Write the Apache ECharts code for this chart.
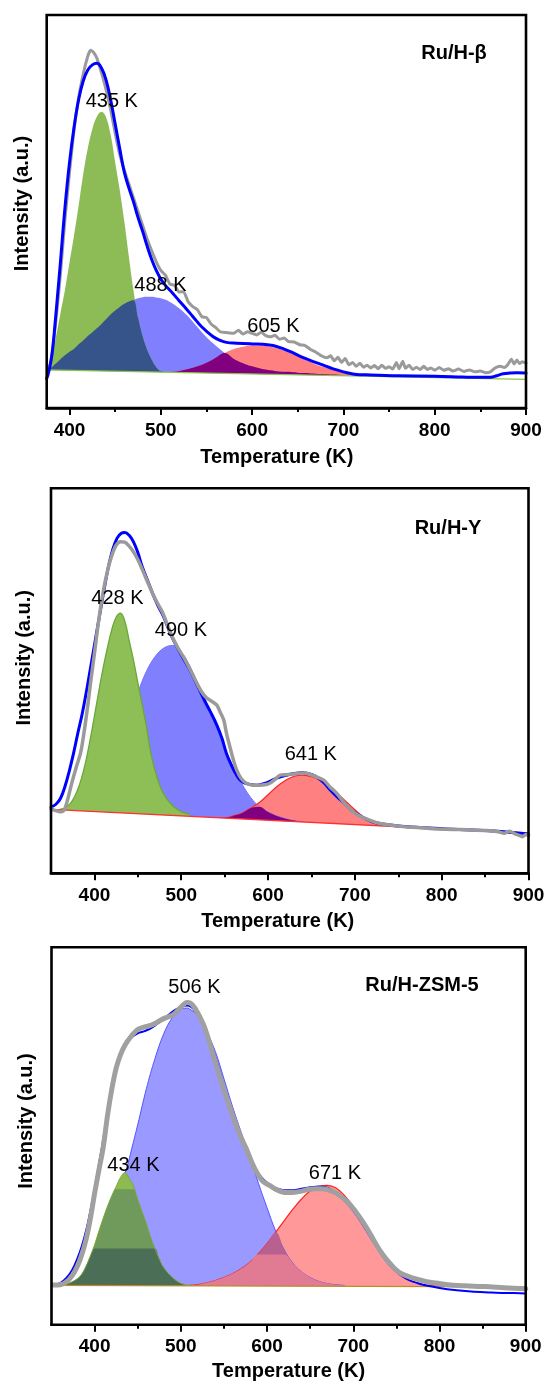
<!DOCTYPE html>
<html>
<head>
<meta charset="utf-8">
<script src="https://cdn.jsdelivr.net/npm/echarts@6/dist/echarts.min.js"></script>
<style>
html,body{margin:0;padding:0;background:#fff;}
#chart{width:544px;height:1382px;}
</style>
</head>
<body>
<div id="chart"></div>
<script>
// ---------- shared axis ticks ----------
const tickLabels = [400, 500, 600, 700, 800, 900];
const minorTicks = [450, 550, 650, 750, 850];

// ---------- Panel 1 : Ru/H-beta ----------
const p1Title = 'Ru/H-β';
const p1PeakLabels = ['435 K', '488 K', '605 K'];
const p1Base = [[375, 9.7], [900, 7.3]];
const p1Green = [[375,9.7],[380,13.0],[385,18.0],[390,24.0],[395,30.0],[400,37.0],[405,44.0],[410,51.5],[415,59.5],[420,66.0],[425,71.0],[430,74.2],[435,75.4],[440,74.0],[445,69.5],[450,62.5],[455,55.5],[460,47.5],[465,38.5],[470,30.0],[475,23.0],[480,18.3],[485,14.8],[490,12.3],[495,10.4],[500,9.4],[510,9.1]];
const p1Blue = [[375,9.7],[380,10.3],[385,11.3],[390,12.4],[395,13.4],[400,14.3],[405,15.1],[410,16.2],[415,17.2],[420,18.3],[425,19.3],[430,20.3],[435,21.4],[440,22.6],[445,23.8],[450,24.8],[455,25.7],[460,26.5],[465,27.1],[470,27.5],[475,27.9],[480,28.2],[485,28.3],[490,28.3],[495,28.1],[500,27.9],[510,27.0],[520,25.4],[530,23.3],[540,20.6],[550,18.0],[560,15.9],[570,14.0],[580,12.5],[590,11.4],[600,10.6],[610,10.0],[620,9.6],[630,9.3],[640,9.2],[650,9.0],[660,8.9],[670,8.7],[680,8.6],[690,8.5],[700,8.3]];
const p1Red = [[510,9.1],[520,9.4],[530,9.9],[540,10.6],[550,11.5],[560,12.8],[570,14.0],[580,15.0],[590,15.6],[600,15.9],[610,15.9],[620,15.6],[630,15.0],[640,14.2],[650,13.2],[660,12.1],[670,11.1],[680,10.3],[690,9.6],[700,9.0],[720,8.4],[740,8.1]];
const p1Fit = [[375,7.5],[378,10],[381,14],[384,21],[387,29],[390,37],[395,51],[400,62.5],[405,71.5],[410,78.5],[415,83.2],[420,86],[425,87.3],[430,87.7],[435,86.5],[440,83.5],[445,78.5],[450,72.3],[455,66],[460,60],[465,56],[470,52.5],[475,48.5],[480,45],[485,41.2],[490,37.8],[495,35],[500,32.8],[505,31.2],[513,29.2],[520,27.3],[528,25.2],[535,23.3],[545,20.6],[557,18.2],[565,17.2],[572,16.7],[583,16.5],[600,16.3],[612,16.2],[623,15.9],[635,15.0],[645,14.0],[656,12.8],[667,11.8],[678,10.9],[688,10.0],[700,9.2],[712,8.6],[730,8.4],[760,8.2],[800,8.1],[830,7.9],[846,7.8],[861,7.8],[868,8.2],[875,8.7],[890,9.0],[900,8.9]];
const p1Exp = [[376,8.0],[380,12.5],[385,22],[390,34],[395,48],[400,60],[405,71],[410,79],[415,85],[420,89.5],[423,91.0],[426,90.6],[430,89],[436,84.5],[440,81],[445,76],[450,70],[455,64.5],[460,60.5],[465,57],[470,53.5],[475,50],[480,46.5],[485,43],[490,40],[495,37.2],[500,35],[505,33.8],[510,31.5],[515,31.2],[520,29.5],[525,29.6],[530,27],[535,25.8],[540,25],[545,23.2],[550,23],[555,21.4],[560,20.5],[565,19.4],[572,19.2],[580,19.0],[585,19.8],[590,18.8],[595,19.4],[600,19.0],[605,18.6],[610,19.3],[615,18.4],[620,18.1],[625,18.5],[630,17.5],[635,17.8],[640,16.9],[646,16.8],[652,16.1],[658,15.9],[664,14.9],[670,14.2],[675,13.4],[682,12.8],[686,13.3],[690,12.0],[694,12.9],[698,11.6],[702,12.6],[706,11.0],[710,11.6],[714,10.6],[718,11.4],[722,10.4],[726,10.9],[730,10.2],[734,10.8],[738,10.0],[742,10.9],[746,10.1],[750,10.5],[754,9.9],[758,11.6],[761,10.0],[765,11.9],[768,10.1],[772,10.9],[776,9.8],[780,10.4],[784,9.8],[788,10.6],[792,9.8],[796,10.2],[800,9.6],[805,10.3],[810,9.6],[815,10.0],[820,9.4],[826,9.9],[832,9.3],[838,9.7],[844,9.2],[850,9.4],[856,9.0],[861,9.2],[865,10.0],[868,10.4],[872,10.6],[876,10.3],[880,11.0],[884,12.4],[887,11.2],[890,12.2],[893,11.3],[896,11.8],[900,11.4]];

// ---------- Panel 2 : Ru/H-Y ----------
const p2Title = 'Ru/H-Y';
const p2PeakLabels = ['428 K', '490 K', '641 K'];
const p2Base = [[350, 16.6], [900, 10.4]];
const p2Green = [[360,16.6],[365,16.9],[370,17.6],[375,19.0],[380,21.3],[385,24.6],[390,29.0],[395,34.6],[400,40.8],[405,47.2],[410,53.3],[415,58.6],[420,63.3],[425,66.5],[430,67.6],[435,65.5],[440,60.5],[445,55.4],[450,49.5],[455,43.8],[460,38.0],[465,31.2],[470,26.6],[475,23.0],[480,20.5],[490,17.6],[500,16.0],[510,15.3]];
const p2Blue = [[380,16.8],[390,18.3],[400,21.0],[410,25.0],[420,30.0],[430,35.5],[440,41.5],[450,47.0],[460,52.5],[470,56.3],[480,58.5],[490,59.2],[500,57.5],[510,53.8],[520,48.8],[530,44.0],[540,38.4],[550,32.7],[560,27.5],[570,23.2],[580,19.7],[590,17.3],[600,15.9],[610,14.9],[620,14.2],[630,13.7],[640,13.4]];
const p2Red = [[540,14.4],[550,14.4],[560,14.9],[570,15.6],[580,16.9],[590,18.4],[600,20.4],[610,22.5],[620,24.1],[630,25.2],[640,25.5],[650,25.1],[660,24.1],[670,22.6],[680,20.7],[690,18.6],[700,16.5],[710,14.6],[720,13.3],[730,12.5],[740,12.2]];
const p2Fit = [[350,17.2],[356,18.0],[361,19.5],[366,22.5],[371,26.5],[376,31.2],[381,36.5],[386,41.5],[391,47.5],[396,54.0],[401,60.5],[406,67.0],[411,73.5],[416,79.5],[421,84.0],[426,87.0],[431,88.3],[435,88.5],[440,87.8],[445,86.1],[450,83.3],[455,79.7],[461,76.2],[467,72.7],[473,69.6],[480,66.5],[487,62.5],[495,58.8],[503,55.6],[510,52.8],[519,48.6],[527,44.8],[534,41.8],[541,38.5],[547,35.0],[552,31.2],[558,28.0],[563,25.8],[568,24.2],[575,23.3],[587,22.9],[598,23.5],[610,24.7],[620,25.4],[630,25.9],[640,26.1],[650,25.7],[657,24.9],[664,23.6],[672,21.6],[680,19.8],[688,18.2],[697,16.2],[708,14.7],[720,13.4],[732,12.8],[750,12.3],[780,11.8],[820,11.4],[860,11.0],[900,10.2]];
const p2Exp = [[350,16.8],[355,16.3],[360,16.0],[365,16.4],[369,19.0],[374,23.5],[379,27.5],[384,31.2],[388,36.5],[392,43.0],[395,48.5],[400,57.0],[405,65.8],[410,73.0],[415,78.5],[420,82.5],[425,85.2],[430,86.1],[435,86.0],[440,85.0],[445,83.5],[450,81.5],[455,79],[461,75.8],[467,72.7],[473,70],[479,67.5],[487,62.8],[495,59],[503,56],[510,53],[517,49.8],[523,47.3],[529,45.6],[535,44.7],[541,43.7],[545,41.8],[549,39.8],[552,36.5],[556,32.9],[560,29.5],[564,26.8],[569,24.6],[575,23.4],[583,22.9],[591,22.9],[596,23.0],[602,23.4],[608,24.4],[614,25.5],[620,25.6],[629,25.8],[637,26.0],[644,26.0],[652,25.4],[657,24.9],[664,24.2],[671,22.5],[679,20.8],[688,18.2],[694,16.8],[700,15.6],[708,14.6],[716,13.9],[724,13.2],[732,12.8],[745,12.4],[760,12.0],[772,11.9],[790,11.6],[812,11.4],[830,11.3],[852,11.1],[865,10.8],[872,10.4],[878,10.9],[885,10.2],[890,9.8],[893,9.5],[897,10.1],[900,9.8]];

// ---------- Panel 3 : Ru/H-ZSM-5 ----------
const p3Title = 'Ru/H-ZSM-5';
const p3PeakLabels = ['506 K', '434 K', '671 K'];
const p3Base = [[350, 10.4], [900, 10.0]];
const p3Green = [[360,10.4],[370,11.0],[380,12.2],[385,13.4],[390,15.5],[395,18.2],[400,21.2],[405,24.8],[410,28.2],[415,31.4],[420,34.2],[425,36.6],[430,39.0],[435,40.3],[440,38.8],[445,36.8],[450,33.2],[455,30.0],[460,26.8],[465,23.2],[470,20.2],[475,17.5],[480,15.2],[490,12.6],[500,11.0],[510,10.4]];
const p3Blue = [[400,19.0],[410,25.0],[420,31.0],[430,37.5],[437,41.3],[443,46.6],[450,53.0],[460,62.5],[470,70.5],[480,77.0],[490,81.3],[500,83.5],[507,83.9],[510,83.7],[520,81.8],[530,77.6],[540,72.4],[550,65.2],[560,57.8],[570,51.0],[580,44.5],[590,37.5],[600,31.0],[610,24.8],[620,19.8],[630,16.3],[640,14.0],[650,12.5],[660,11.5],[670,10.9],[680,10.6],[690,10.4]];
const p3Red = [[510,10.4],[520,10.6],[530,11.1],[540,11.7],[550,12.5],[560,13.5],[570,14.8],[580,16.5],[590,18.8],[600,21.5],[610,24.5],[620,27.6],[630,30.6],[640,33.3],[650,35.4],[660,36.6],[670,36.9],[680,36.2],[690,34.2],[700,31.3],[710,27.8],[720,24.0],[730,20.2],[740,16.6],[750,14.0],[760,12.3],[770,11.3],[780,10.7],[790,10.4],[800,10.2]];
const p3Fit = [[352,10.6],[360,11.0],[367,12.3],[374,14.5],[380,17.5],[385,20.7],[390,24.8],[395,30.0],[400,36.0],[405,42.5],[410,49.0],[415,56.5],[420,63.2],[425,68.5],[430,72.0],[435,74.3],[442,76.0],[450,77.2],[458,77.8],[465,78.5],[472,79.6],[480,81.0],[488,82.5],[495,83.6],[502,84.4],[507,84.6],[512,84.2],[518,82.8],[525,80.2],[533,75.6],[541,70.0],[549,63.8],[557,57.8],[565,52.3],[573,47.6],[581,43.6],[589,40.4],[597,38.2],[605,36.8],[613,36.0],[621,35.6],[630,35.6],[640,36.0],[650,36.4],[660,36.6],[668,36.4],[676,35.6],[684,34.2],[692,32.4],[700,30.2],[708,27.6],[716,24.7],[724,21.7],[732,18.9],[740,16.4],[748,14.5],[756,13.0],[765,11.8],[775,11.0],[785,10.4],[800,9.7],[820,9.1],[840,8.7],[860,8.5],[880,8.4],[900,8.3]];
const p3Exp = [[352,10.5],[360,10.6],[367,11.3],[374,13.0],[380,15.5],[385,18.5],[390,22.5],[395,28.0],[400,34.8],[405,41.0],[410,47.0],[415,55.5],[420,62.5],[425,68.0],[430,71.5],[435,74.0],[442,76.3],[450,78.2],[458,78.9],[465,79.3],[470,79.8],[476,80.6],[482,81.3],[488,81.8],[493,82.5],[499,83.9],[503,84.8],[507,85.4],[511,85.2],[516,84.0],[521,82.0],[527,79.1],[533,75.0],[539,70.3],[545,65.8],[551,61.5],[557,57.5],[563,53.6],[569,50.0],[576,46.6],[582,43.2],[588,40.4],[595,38.0],[603,36.9],[610,35.9],[616,35.3],[624,35.0],[632,35.1],[640,35.4],[648,35.8],[656,36.0],[664,36.0],[670,35.8],[677,35.2],[684,34.3],[692,32.8],[700,30.8],[708,28.3],[716,25.5],[724,22.3],[732,19.3],[740,16.9],[748,14.9],[756,13.5],[765,12.7],[775,12.0],[785,11.4],[800,10.9],[813,10.5],[830,10.3],[853,10.1],[875,9.8],[900,9.5]];

// ---------- layout / style (not data) ----------
const FONT = '"Liberation Sans", Arial, Helvetica, sans-serif';
const panels = [
  { title: p1Title, labels: p1PeakLabels, base: p1Base, green: p1Green, blue: p1Blue, red: p1Red, fit: p1Fit, exp: p1Exp,
    xMin: 375, grid: { left: 46.7, top: 15, width: 479.3, height: 393 },
    titlePos: [454, 53], labelPos: [[111.8, 101.7], [160.5, 285], [273.5, 326.5]],
    yGap: 14, yPad: 16, xGap: 39, xPad: 19,
    col: { green: '#8dbb55', blue: '#8080ff', red: '#ff8080', gb: '#36548a', br: '#800080', baseLine: '#8bc34a', exp: '#9a9a9a', fit: '#0000ff' },
    lw: { exp: 3, fit: 3 }, expOnTop: false, mode: 1 },
  { title: p2Title, labels: p2PeakLabels, base: p2Base, green: p2Green, blue: p2Blue, red: p2Red, fit: p2Fit, exp: p2Exp,
    xMin: 350, grid: { left: 51, top: 488.3, width: 477.5, height: 385 },
    titlePos: [448, 528.3], labelPos: [[117.4, 598.3], [181, 630], [310.8, 754.5]],
    yGap: 17, yPad: 46, xGap: 38.5, xPad: 24,
    col: { green: '#8ebf57', blue: '#8080ff', red: '#ff8080', br: '#800080', baseLine: '#ff3030', exp: '#9a9a9a', fit: '#0000ff' },
    lw: { exp: 3.5, fit: 3 }, expOnTop: true, mode: 2 },
  { title: p3Title, labels: p3PeakLabels, base: p3Base, green: p3Green, blue: p3Blue, red: p3Red, fit: p3Fit, exp: p3Exp,
    xMin: 350, grid: { left: 51.5, top: 947.3, width: 474.2, height: 377.4 },
    titlePos: [422, 985.7], labelPos: [[194.4, 987.7], [133.5, 1165], [335, 1173.3]],
    yGap: 15, yPad: 30, xGap: 37, xPad: 0,
    col: { green: '#8dbb4f', greenMid: '#6f9a5b', greenDark: '#4b6f56', blue: '#9999ff', red: '#ff9999', br: '#b8608f', brLow: '#e07b93', baseLine: '#c08a2a', exp: '#a0a0a0', fit: '#0000ff' },
    lw: { exp: 5, fit: 2 }, expOnTop: true, mode: 3 }
];
const bandMid = 35.9, bandLow = 20.2, pinkLevel = 18.6;

function overlap(a, b) {
  const m = new Map(b.map(p => [p[0], p[1]]));
  return a.filter(p => m.has(p[0])).map(p => [p[0], Math.min(p[1], m.get(p[0]))]);
}
function capAt(a, level) { return a.map(p => [p[0], Math.min(p[1], level)]); }

const grids = [], xAxes = [], yAxes = [], series = [], graphics = [];

panels.forEach((P, i) => {
  grids.push(Object.assign({ show: true, z: 20, borderColor: '#000', borderWidth: 2.6, backgroundColor: 'transparent', containLabel: false, outerBoundsMode: 'none' }, P.grid));
  xAxes.push({
    type: 'value', gridIndex: i, position: 'bottom', min: P.xMin, max: 900,
    axisLine: { show: true, onZero: false, lineStyle: { color: '#000', width: 2.6 } },
    axisTick: { show: true, inside: false, length: 7, customValues: tickLabels, lineStyle: { color: '#000', width: 2 } },
    axisLabel: { show: true, customValues: tickLabels, margin: 13, color: '#000', fontSize: 19, fontWeight: 'bold', fontFamily: FONT },
    splitLine: { show: false }, minorTick: { show: false },
    name: 'Temperature (K)', nameLocation: 'middle', nameGap: P.xGap, nameMoveOverlap: false,
    nameTextStyle: { color: '#000', fontSize: 20, fontWeight: 'bold', fontFamily: FONT, padding: [0, P.xPad, 0, 0] }
  });
  xAxes.push({
    type: 'value', gridIndex: i, position: 'bottom', min: P.xMin, max: 900,
    axisLine: { show: false }, axisLabel: { show: false }, splitLine: { show: false },
    axisTick: { show: true, inside: false, length: 4, customValues: minorTicks, lineStyle: { color: '#000', width: 2 } }
  });
  yAxes.push({
    type: 'value', gridIndex: i, min: 0, max: 100,
    axisLine: { show: false }, axisTick: { show: false }, axisLabel: { show: false }, splitLine: { show: false },
    name: 'Intensity (a.u.)', nameLocation: 'middle', nameGap: P.yGap, nameRotate: 90, nameMoveOverlap: false,
    nameTextStyle: { color: '#000', fontSize: 20, fontWeight: 'bold', fontFamily: FONT, padding: [0, 0, 0, P.yPad] }
  });

  const xi = 2 * i, yi = i;
  const common = { type: 'line', xAxisIndex: xi, yAxisIndex: yi, symbol: 'none', showSymbol: false, smooth: 0.4, silent: true, animation: false };
  const area = (data, color, z, line) => Object.assign({}, common, {
    data, z,
    lineStyle: line ? { color: line[0], width: line[1] } : { width: 0, opacity: 0 },
    areaStyle: { color, opacity: 1, origin: 'start' }
  });
  const curve = (data, color, width, z, smooth) => Object.assign({}, common, {
    data, z, smooth: smooth == null ? 0.4 : smooth, lineStyle: { color, width, cap: 'round', join: 'round' }
  });
  const C = P.col;

  if (P.mode === 1) {
    series.push(area(P.blue, C.blue, 2));
    series.push(area(P.red, C.red, 2));
    series.push(area(P.green, C.green, 2));
    series.push(area(overlap(P.green, P.blue), C.gb, 3));
    series.push(area(overlap(P.blue, P.red), C.br, 3));
  } else if (P.mode === 2) {
    series.push(area(P.blue, C.blue, 2, ['#7070ff', 1]));
    series.push(area(P.red, C.red, 2, ['#ff2020', 1.2]));
    series.push(area(overlap(P.blue, P.red), C.br, 3));
    series.push(area(P.green, C.green, 3, ['#6aa836', 1.3]));
  } else {
    series.push(area(P.blue, C.blue, 2, ['#5555ff', 1]));
    series.push(area(P.red, C.red, 2, ['#ff2020', 1.2]));
    const br = overlap(P.blue, P.red);
    series.push(area(br, C.br, 3));
    series.push(area(capAt(br, pinkLevel), C.brLow, 3));
    series.push(area(P.green, C.green, 3, ['#7aaa40', 1]));
    series.push(area(capAt(P.green, bandMid), C.greenMid, 3));
    series.push(area(capAt(P.green, bandLow), C.greenDark, 3));
  }
  // white cover below the fitted baseline
  series.push(Object.assign({}, common, { data: P.base, z: 5, smooth: false, lineStyle: { width: 0, opacity: 0 }, areaStyle: { color: '#ffffff', opacity: 1, origin: 'start' } }));
  series.push(curve(P.base, C.baseLine, 1.3, 6, false));
  if (P.expOnTop) {
    series.push(curve(P.fit, C.fit, P.lw.fit, 7));
    series.push(curve(P.exp, C.exp, P.lw.exp, 8, 0.3));
  } else {
    series.push(curve(P.exp, C.exp, P.lw.exp, 7, 0.15));
    series.push(curve(P.fit, C.fit, P.lw.fit, 8));
  }

  graphics.push({ type: 'text', x: P.titlePos[0], y: P.titlePos[1], z: 50,
    style: { text: P.title, font: 'bold 20px ' + FONT, fill: '#000', align: 'center', verticalAlign: 'middle', textAlign: 'center', textVerticalAlign: 'middle' } });
  P.labels.forEach((t, k) => {
    graphics.push({ type: 'text', x: P.labelPos[k][0], y: P.labelPos[k][1], z: 50,
      style: { text: t, font: '20px ' + FONT, fill: '#000', align: 'center', verticalAlign: 'middle', textAlign: 'center', textVerticalAlign: 'middle' } });
  });
});

const chart = echarts.init(document.getElementById('chart'), null, { renderer: 'canvas' });
chart.setOption({
  animation: false,
  backgroundColor: '#ffffff',
  grid: grids,
  xAxis: xAxes,
  yAxis: yAxes,
  series: series,
  graphic: graphics
});
</script>
</body>
</html>
